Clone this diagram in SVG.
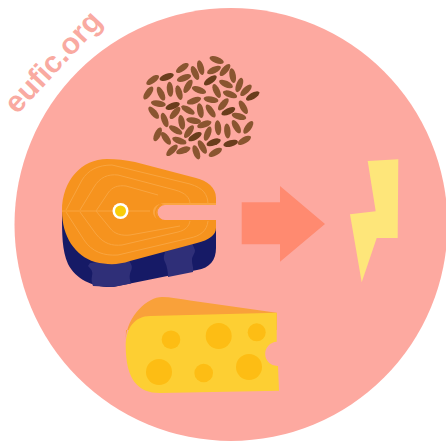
<svg xmlns="http://www.w3.org/2000/svg" width="446" height="443" viewBox="0 0 446 443">
<style>
.bg{fill:#fda9a0}
.g{fill:#8a5530}
.d{fill:#6a3d1c}
.ln{fill:none;stroke:#f9a540;stroke-width:1}
.hole{fill:#fdbd14}
text{font-family:"Liberation Sans",Arial,sans-serif;font-weight:700;fill:#f9aaa1}
</style>
<defs><ellipse id="gr" rx="7.500" ry="3.200"/></defs>
<rect width="446" height="443" fill="#fff"/>
<circle class="bg" cx="231" cy="224.500" r="216.500"/>
<text id="brand" transform="translate(17,115) rotate(-47)" font-size="30">eufic.org</text>
<g id="grains" transform="translate(130,45) scale(.3333)">
<g class="g">
<use href="#gr" transform="translate(260,45) rotate(20) scale(3)"/><use href="#gr" transform="translate(157,69) rotate(-35) scale(3)"/><use href="#gr" transform="translate(212,68) rotate(75) scale(3)"/><use href="#gr" transform="translate(195,84) rotate(65) scale(3)"/><use href="#gr" transform="translate(252,75) rotate(-25) scale(3)"/><use href="#gr" transform="translate(285,75) rotate(-50) scale(3)"/><use href="#gr" transform="translate(308,92) rotate(80) scale(3)"/><use href="#gr" transform="translate(68,105) rotate(-35) scale(3)"/><use href="#gr" transform="translate(162,99) rotate(-20) scale(3)"/><use href="#gr" transform="translate(288,117) rotate(25) scale(3)"/><use href="#gr" transform="translate(328,120) rotate(-70) scale(3)"/><use href="#gr" transform="translate(348,136) rotate(-45) scale(3)"/><use href="#gr" transform="translate(55,144) rotate(-55) scale(3)"/><use href="#gr" transform="translate(93,146) rotate(65) scale(3)"/><use href="#gr" transform="translate(120,133) rotate(85) scale(3)"/><use href="#gr" transform="translate(147,143) rotate(75) scale(3)"/><use href="#gr" transform="translate(174,124) rotate(-60) scale(3)"/><use href="#gr" transform="translate(207,135) rotate(20) scale(3)"/><use href="#gr" transform="translate(260,138) rotate(65) scale(3)"/><use href="#gr" transform="translate(300,148) rotate(20) scale(3)"/><use href="#gr" transform="translate(85,176) rotate(10) scale(3)"/><use href="#gr" transform="translate(192,167) rotate(-20) scale(3)"/><use href="#gr" transform="translate(243,164) rotate(10) scale(3)"/><use href="#gr" transform="translate(280,178) rotate(-50) scale(3)"/><use href="#gr" transform="translate(340,187) rotate(60) scale(3)"/><use href="#gr" transform="translate(71,203) rotate(50) scale(3)"/><use href="#gr" transform="translate(135,204) rotate(-50) scale(3)"/><use href="#gr" transform="translate(174,195) rotate(30) scale(3)"/><use href="#gr" transform="translate(211,197) rotate(80) scale(3)"/><use href="#gr" transform="translate(242,198) rotate(55) scale(3)"/><use href="#gr" transform="translate(327,214) rotate(15) scale(3)"/><use href="#gr" transform="translate(104,225) rotate(70) scale(3)"/><use href="#gr" transform="translate(155,232) rotate(80) scale(3)"/><use href="#gr" transform="translate(191,227) rotate(10) scale(3)"/><use href="#gr" transform="translate(223,238) rotate(-20) scale(3)"/><use href="#gr" transform="translate(264,248) rotate(85) scale(3)"/><use href="#gr" transform="translate(292,258) rotate(85) scale(3)"/><use href="#gr" transform="translate(319,245) rotate(60) scale(3)"/><use href="#gr" transform="translate(355,247) rotate(-55) scale(3)"/><use href="#gr" transform="translate(83,268) rotate(-65) scale(3)"/><use href="#gr" transform="translate(108,280) rotate(55) scale(3)"/><use href="#gr" transform="translate(137,255) rotate(30) scale(3)"/><use href="#gr" transform="translate(177,260) rotate(-55) scale(3)"/><use href="#gr" transform="translate(233,266) rotate(-70) scale(3)"/><use href="#gr" transform="translate(148,287) rotate(20) scale(3)"/><use href="#gr" transform="translate(126,316) rotate(-45) scale(3)"/><use href="#gr" transform="translate(160,316) rotate(-20) scale(3)"/><use href="#gr" transform="translate(199,322) rotate(70) scale(3)"/><use href="#gr" transform="translate(217,306) rotate(60) scale(3)"/><use href="#gr" transform="translate(256,322) rotate(-30) scale(3)"/><use href="#gr" transform="translate(343,286) rotate(-30) scale(3)"/>
</g>
<g class="d">
<use href="#gr" transform="translate(110,96) rotate(-20) scale(3)"/><use href="#gr" transform="translate(241,106) rotate(-35) scale(3)"/><use href="#gr" transform="translate(368,153) rotate(-30) scale(3)"/><use href="#gr" transform="translate(128,183) rotate(-20) scale(3)"/><use href="#gr" transform="translate(295,199) rotate(-25) scale(3)"/><use href="#gr" transform="translate(195,275) rotate(-30) scale(3)"/><use href="#gr" transform="translate(251,292) rotate(-20) scale(3)"/><use href="#gr" transform="translate(302,295) rotate(-15) scale(3)"/>
</g>
</g>
<g id="salmon">
<path fill="#161a66" d="M62 212C62 235 62 250 68 264C76 280 95 288 113 287L197 270C210 268 216 260 216 248V226L140 225Z"/>
<path fill="#2f2f78" d="M90 263L88 266C92 270 93 272 92 276C91 280 92 283 93 286L113 287L131 283.500C130 280 129 277 130 274C131 270 133 268 131 264L128 258Z"/>
<path fill="#2f2f78" d="M165 252C164 256 163 258 165 262C167 266 168 272 168 277L193 272C194 268 192 265 192 260C192 256 195 254 195 250L192 243Z"/>
<path fill="#f6931e" d="M62 211C62 180 82 159 107 159C117 159 125 160 135 162L196 178C207 181 216 187 216 198V205H165A7.500 7.500 0 0 0 165 220H216V228C216 235 209 240 197 243L130 261C118 265 108 265 95 262C75 256 62 236 62 211Z"/>
<path fill="#fba541" d="M216 204H165A8.500 8.500 0 0 0 159 218A7.500 7.500 0 0 1 165 205H216Z"/>
<path fill="#fba541" d="M216 203H164A10 10 0 0 0 157 219A8 8 0 0 1 165 205H216Z"/>
<g class="ln">
<path d="M62 211H150"/>
<path d="M66 210L82 180C88 170 98 165 112 165L190 184C203 188 208 194 208 205"/>
<path d="M66 212L84 240C92 252 104 256 118 255L190 238C200 236 207 231 208 221"/>
<path d="M80 210L94 187C100 177 108 174 118 175L175 190C186 193 190 198 190 204"/>
<path d="M80 212L96 234C104 244 112 246 122 245L178 232C186 230 189 226 190 221"/>
<path d="M96 211L108 193C112 187 118 185 126 186L158 195"/>
<path d="M96 211L110 228C114 234 122 236 130 235L180 226"/>
</g>
<circle cx="120.500" cy="211" r="8" fill="#fff"/>
<circle cx="120.500" cy="211" r="5.500" fill="#f9cc0a"/>
</g>
<g id="arrow"><path fill="#ff8a70" d="M241.700 202.300H280V186L325 224L280 261.700V244.300H241.700Z"/></g>
<g id="bolt"><path fill="#fee67a" d="M367.700 161L398.300 159.300L397.700 238H376.700L361.700 282.300L350 214.300L375.700 211.300Z"/></g>
<g id="cheese">
<path fill="#f9a13a" d="M125.700 340C127 315 148 297 162 297C170 297 180 299 190 300.500L276.700 312.700V330H126Z"/>
<path fill="#fdcf33" d="M125.700 346C125.700 328 135 316 150 316L276.700 312.700V341.700A12 12 0 0 0 278 366L279 390.700L160 393C138 393 126 380 125.700 346Z"/>
<g class="hole">
<circle cx="171" cy="339.700" r="9.300"/><circle cx="218.700" cy="336" r="13"/><circle cx="256.700" cy="332.300" r="9"/><circle cx="159" cy="372" r="13"/><circle cx="203.700" cy="373" r="9.300"/><circle cx="249" cy="367" r="13"/>
</g>
</g>
</svg>
